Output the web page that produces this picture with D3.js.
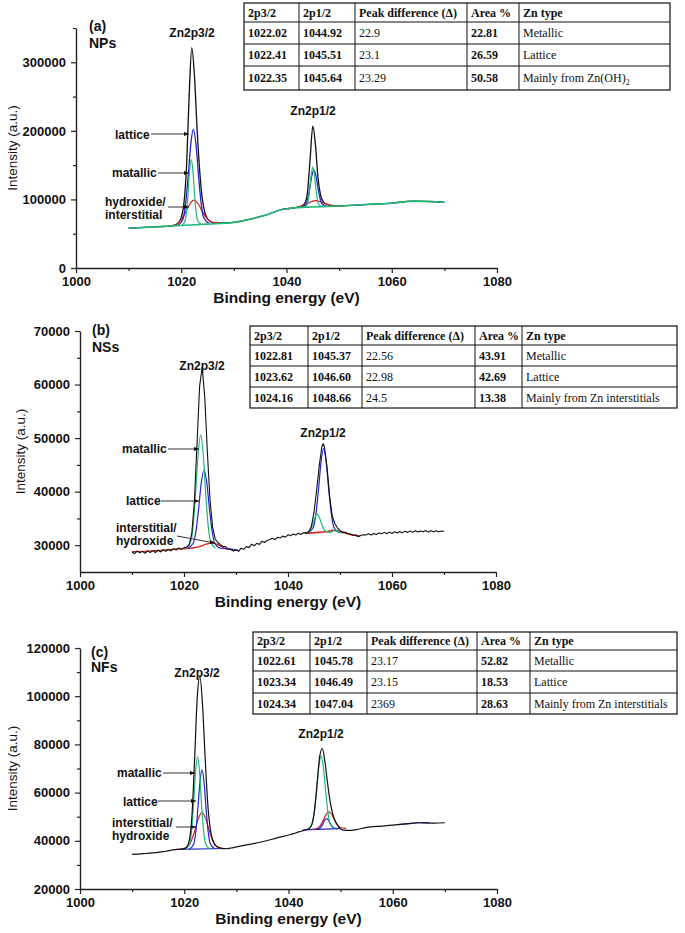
<!DOCTYPE html>
<html><head><meta charset="utf-8">
<script src="https://cdn.jsdelivr.net/npm/d3@7"></script>
<style>
body{margin:0;background:#fff}
svg{display:block}
.tick text{font-family:"Liberation Sans",Arial,sans-serif;font-weight:bold;font-size:13px;fill:#111}
.domain{stroke:#222;stroke-width:1.4}
.tick line{stroke:#222;stroke-width:1.2}
</style>
</head><body>
<svg id="chart" width="685" height="933"></svg>
<script>
// ---------------- DATA ----------------
const energyTicks = [1000, 1020, 1040, 1060, 1080];
const energyMinor = [1010, 1030, 1050, 1070];
const aYTicks = [0, 100000, 200000, 300000];
const aYMinor = [50000, 150000, 250000, 350000];
const bYTicks = [30000, 40000, 50000, 60000, 70000];
const bYMinor = [35000, 45000, 55000, 65000];
const cYTicks = [20000, 40000, 60000, 80000, 100000, 120000];
const cYMinor = [30000, 50000, 70000, 90000, 110000];

const tableHeader = ["2p3/2", "2p1/2", "Peak difference (\u0394)", "Area %", "Zn type"];
const aTable = [
  ["1022.02", "1044.92", "22.9", "22.81", "Metallic"],
  ["1022.41", "1045.51", "23.1", "26.59", "Lattice"],
  ["1022.35", "1045.64", "23.29", "50.58", "Mainly from Zn(OH)2"]
];
const bTable = [
  ["1022.81", "1045.37", "22.56", "43.91", "Metallic"],
  ["1023.62", "1046.60", "22.98", "42.69", "Lattice"],
  ["1024.16", "1048.66", "24.5", "13.38", "Mainly from Zn interstitials"]
];
const cTable = [
  ["1022.61", "1045.78", "23.17", "52.82", "Metallic"],
  ["1023.34", "1046.49", "23.15", "18.53", "Lattice"],
  ["1024.34", "1047.04", "2369", "28.63", "Mainly from Zn interstitials"]
];

// Panel (a) NPs  [binding energy eV, intensity a.u.]
const aSpectrum = [[1010,58000],[1013,59200],[1016,60400],[1017,60720],[1018,61260],[1019,63460],[1019.5,66570],[1020,73900],[1020.5,93450],[1021,147300],[1021.5,251000],[1022,321200],[1022.5,281700],[1023,204400],[1023.5,142000],[1024,101400],[1024.5,80760],[1025,71790],[1026,66320],[1027,65660],[1028,65800],[1030,66500],[1033,71000],[1036,77000],[1039,85000],[1042,88560],[1043,90810],[1043.5,94820],[1044,111190],[1044.5,160240],[1045,206840],[1045.5,179480],[1046,130470],[1046.5,105540],[1047,96620],[1047.5,93570],[1048,92090],[1049,90760],[1050,90590],[1055,92500],[1060,94500],[1064,97500],[1067,97000],[1070,96000]];
const aBackground = [[1010,58000],[1015,60000],[1020,62000],[1025,64000],[1030,66500],[1033,71000],[1036,77000],[1039,85000],[1042,88000],[1045,89000],[1050,90500],[1055,92500],[1060,94500],[1064,97500],[1067,97000],[1070,96000]];
const aMetallic32 = [[1020.1,62200],[1020.7,68300],[1021.0,82500],[1021.3,110000],[1021.6,142700],[1021.9,158000],[1022.2,143000],[1022.5,110800],[1022.8,83400],[1023.1,69500],[1023.7,64000]];
const aMetallic12 = [[1043.35,88570],[1043.9,92260],[1044.18,100900],[1044.45,117800],[1044.73,137700],[1045.0,147000],[1045.28,137900],[1045.55,118200],[1045.83,101500],[1046.1,93000],[1046.65,89670]];
const aLattice32 = [[1019.3,61930],[1020.3,70840],[1020.8,91590],[1021.3,132150],[1021.8,179800],[1022.3,202150],[1022.8,180300],[1023.3,133150],[1023.8,93090],[1024.3,72840],[1025.3,64930]];
const aLattice12 = [[1042.8,88370],[1043.6,91880],[1044.0,99920],[1044.4,115600],[1044.8,134010],[1045.2,142670],[1045.6,134280],[1046.0,116130],[1046.4,100720],[1046.8,92950],[1047.6,89970]];
const aHydroxide32 = [[1017.5,60820],[1019.1,63790],[1019.9,69470],[1020.75,80280],[1021.6,92900],[1022.4,99000],[1023.2,93700],[1024.05,81930],[1024.9,71970],[1025.7,67090],[1027.35,65750]];
const aHydroxide12 = [[1040.25,86270],[1042.0,88560],[1042.88,90180],[1043.75,93080],[1044.63,96450],[1045.5,98170],[1046.38,96980],[1047.25,94180],[1048.13,91830],[1049.0,90760],[1050.75,90740]];

// Panel (b) NSs (raw data, read with its noise)
const bSpectrum = [[1010,28700],[1010.5,28450],[1011,28950],[1011.5,28600],[1012,28850],[1012.5,28500],[1013,28900],[1013.5,28650],[1014,29000],[1014.5,28650],[1015,29050],[1015.5,28750],[1016,29150],[1016.5,28850],[1017,29200],[1017.5,28950],[1018,29350],[1018.5,29100],[1019,29500],[1019.5,29250],[1020,29550],[1020.5,29650],[1021,30040],[1021.5,32240],[1022,38270],[1022.5,48850],[1023,59630],[1023.5,63270],[1024,57520],[1024.5,47290],[1025,38490],[1025.5,33390],[1026,31170],[1026.5,30500],[1027,30100],[1027.5,29750],[1028,29750],[1028.5,29300],[1029,29250],[1029.5,28900],[1030,29150],[1030.5,28850],[1031,29450],[1031.5,29250],[1032,29750],[1032.5,29550],[1033,30200],[1033.5,29900],[1034,30350],[1034.5,30150],[1035,30750],[1035.5,30500],[1036,30900],[1036.5,31050],[1037,31300],[1037.5,31050],[1038,31500],[1038.5,31350],[1039,31700],[1039.5,31500],[1040,31950],[1040.5,31750],[1041,32100],[1041.5,31900],[1042,32250],[1042.5,32000],[1043,32350],[1043.5,32300],[1044,32570],[1044.5,33560],[1045,36120],[1045.5,40200],[1046,44780],[1046.5,48340],[1046.75,48940],[1047,48450],[1047.5,44540],[1048,39170],[1048.5,35500],[1049,34050],[1049.5,33250],[1050,32750],[1050.5,32400],[1051,32420],[1051.5,32200],[1052,32100],[1052.5,31850],[1053,31900],[1053.5,31600],[1054,31800],[1054.5,31950],[1055,31900],[1055.5,32150],[1056,31900],[1056.5,32200],[1057,32000],[1057.5,32300],[1058,32150],[1058.5,32400],[1059,32150],[1059.5,32450],[1060,32200],[1060.5,32500],[1061,32300],[1061.5,32550],[1062,32300],[1062.5,32600],[1063,32400],[1063.5,32650],[1064,32400],[1064.5,32700],[1065,32450],[1065.5,32650],[1066,32500],[1066.5,32750],[1067,32450],[1067.5,32700],[1068,32500],[1068.5,32700],[1069,32500],[1069.5,32650],[1070,32550]];
const bMetallic32 = [[1020.35,29440],[1021.3,30730],[1021.78,33850],[1022.25,40000],[1022.73,47230],[1023.2,50600],[1023.68,47230],[1024.15,40000],[1024.63,33850],[1025.1,30730],[1026.05,29440]];
const bMetallic12 = [[1043.2,32260],[1044.0,32510],[1044.4,33010],[1044.8,34040],[1045.2,35240],[1045.6,35800],[1046.0,35260],[1046.4,34150],[1046.8,33160],[1047.2,32660],[1048.0,32410],[1048.3,32450],[1048.7,32650],[1049.1,32900],[1049.5,32650],[1049.9,32400],[1050.5,32300]];
const bLattice32 = [[1020.7,29430],[1021.75,30310],[1022.28,32470],[1022.8,36700],[1023.33,41680],[1023.85,44000],[1024.38,41680],[1024.9,36700],[1025.43,32470],[1025.95,30310],[1027.0,29430],[1028.5,29300],[1030.5,29050]];
const bLattice12 = [[1043.85,32330],[1044.85,33320],[1045.35,35680],[1045.85,40230],[1046.35,45570],[1046.85,48050],[1047.35,45570],[1047.85,40240],[1048.35,35700],[1048.85,33320],[1049.85,32330]];
const bInterstitial32 = [[1010,28800],[1013,28900],[1016,29100],[1019,29300],[1021,29400],[1022.3,29600],[1023.3,29850],[1024.3,30200],[1025.3,30400],[1026.3,30200],[1027.3,29700],[1028.3,29300],[1029.3,29150]];
const bInterstitial12 = [[1043.3,32200],[1044.5,32300],[1046,32400],[1047.2,32500],[1048,32650],[1048.7,32800],[1049.4,32700],[1050.5,32400],[1052,32000],[1053.8,31700]];

// Panel (c) NFs
const cSpectrum = [[1010,34400],[1011,34500],[1012,34650],[1013,34800],[1014,34950],[1015,35200],[1016,35500],[1017,35900],[1018,36300],[1019,36460],[1019.5,36530],[1020,36750],[1020.5,37490],[1021,40530],[1021.5,51230],[1022,74400],[1022.5,99710],[1023,108260],[1023.5,96670],[1024,74960],[1024.5,55690],[1025,44840],[1025.5,40140],[1026,38120],[1027,36910],[1028,36700],[1029,37000],[1030,37500],[1032,38300],[1035,39600],[1038,41300],[1040,42400],[1041,43000],[1042,43700],[1043,44300],[1044,45070],[1044.5,46940],[1045,52830],[1045.5,64000],[1046,75250],[1046.5,78300],[1047,72580],[1047.5,63800],[1048,56140],[1048.5,51070],[1049,48030],[1049.5,46280],[1050,44900],[1051,44300],[1052,44350],[1053,44600],[1055,45600],[1058,46100],[1060,46500],[1062,46900],[1065,47500],[1068,47300],[1070,47500]];
const cMetallic32 = [[1020.3,36570],[1021.05,38920],[1021.43,44580],[1021.8,55700],[1022.18,68780],[1022.55,74880],[1022.93,68810],[1023.3,55760],[1023.68,44670],[1024.05,39040],[1024.8,36750]];
const cMetallic12 = [[1043.55,44700],[1044.45,46600],[1044.9,51120],[1045.35,59970],[1045.8,70370],[1046.25,75230],[1046.7,70430],[1047.15,60090],[1047.6,51310],[1048.05,46850],[1048.95,45080]];
const cLattice32 = [[1021.0,36590],[1021.8,38600],[1022.2,43460],[1022.6,52980],[1023.0,64190],[1023.4,69420],[1023.8,64220],[1024.2,53050],[1024.6,43550],[1025.0,38730],[1025.8,36780]];
const cLattice12 = [[1045.2,44760],[1045.9,45070],[1046.25,45730],[1046.6,47000],[1046.95,48490],[1047.3,49200],[1047.65,48540],[1048.0,47100],[1048.35,45880],[1048.7,45270],[1049.4,45060]];
const cInterstitial32 = [[1019.2,36480],[1020.6,37450],[1021.3,39700],[1022.0,44090],[1022.7,49250],[1023.4,51680],[1024.1,49310],[1024.8,44200],[1025.5,39860],[1026.2,37670],[1027.6,36810]];
const cInterstitial12 = [[1044.45,44720],[1045.55,45220],[1046.1,46300],[1046.65,48390],[1047.2,50840],[1047.75,52000],[1048.3,50920],[1048.85,48550],[1049.4,46530],[1049.95,45530],[1051.05,45180]];
const cBackground32 = [[1018.5,36420],[1028,36800]];
const cBackground12 = [[1042.8,44550],[1049.8,45060]];
const cBackgroundTail = [[1061,46700],[1063,47100],[1065,47500],[1067,47400]];

const aLabels = ["(a)", "NPs", "Zn2p3/2", "Zn2p1/2", "lattice", "matallic", "hydroxide/", "interstitial"];
const bLabels = ["(b)", "NSs", "Zn2p3/2", "Zn2p1/2", "matallic", "lattice", "interstitial/", "hydroxide"];
const cLabels = ["(c)", "NFs", "Zn2p3/2", "Zn2p1/2", "matallic", "lattice", "interstitial/", "hydroxide"];

// ---------------- DRAWING ----------------
const COL = {black:"#111", green:"#1fb97a", blue:"#2424c8", red:"#d42020"};
const SANS = "'Liberation Sans', Arial, sans-serif";
const SERIF = "'Liberation Serif', 'Times New Roman', serif";
const svg = d3.select("#chart");

const defs = svg.append("defs");
defs.append("marker").attr("id","arr").attr("viewBox","0 0 6 6").attr("refX",6).attr("refY",3)
  .attr("markerWidth",5).attr("markerHeight",5).attr("orient","auto")
  .append("path").attr("d","M0,0.5 L6,3 L0,5.5 z").attr("fill","#111");

function panel(p) {
  const x = d3.scaleLinear().domain([1000, 1080]).range([p.left, p.right]);
  const y = d3.scaleLinear().domain(p.yDomain).range([p.bottom, p.top]);
  const g = svg.append("g");

  g.append("g").attr("transform", `translate(0,${p.bottom})`)
    .call(d3.axisBottom(x).tickValues(energyTicks).tickSize(5).tickSizeOuter(0).tickPadding(4).tickFormat(d3.format("d")));
  g.append("g").attr("transform", `translate(0,${p.bottom})`)
    .call(d3.axisBottom(x).tickValues(energyMinor).tickSize(3).tickSizeOuter(0).tickFormat(""))
    .select(".domain").remove();
  g.append("g").attr("transform", `translate(${p.left},0)`)
    .call(d3.axisLeft(y).tickValues(p.yTicks).tickSize(5).tickSizeOuter(0).tickPadding(5).tickFormat(d3.format("d")));
  g.append("g").attr("transform", `translate(${p.left},0)`)
    .call(d3.axisLeft(y).tickValues(p.yMinor).tickSize(3).tickSizeOuter(0).tickFormat(""))
    .select(".domain").remove();

  g.append("text").attr("x", (p.left + p.right) / 2).attr("y", p.bottom + 35)
    .attr("text-anchor","middle").attr("font-family",SANS).attr("font-weight","bold")
    .attr("font-size","15.5px").attr("fill","#111").text("Binding energy (eV)");
  g.append("text").attr("transform", `translate(${p.ytitleX},${(p.top + p.bottom) / 2}) rotate(-90)`)
    .attr("text-anchor","middle").attr("dominant-baseline","middle").attr("font-family",SANS)
    .attr("font-size","13.5px").attr("fill","#111").text("Intensity (a.u.)");

  const smooth = d3.line().x(d => x(d[0])).y(d => y(d[1])).curve(d3.curveMonotoneX);
  const straight = d3.line().x(d => x(d[0])).y(d => y(d[1]));
  p.series.forEach(s => g.append("path").datum(s[0]).attr("d", s[3] ? straight : smooth)
    .attr("fill","none").attr("stroke", s[1]).attr("stroke-width", s[2]).attr("stroke-linejoin","round"));

  const L = p.labels, P = p.labelPos;
  const txt = (t, pos, anchor, size) => g.append("text").attr("x", pos[0]).attr("y", pos[1])
    .attr("text-anchor", anchor).attr("font-family", SANS).attr("font-weight","bold")
    .attr("font-size", size).attr("fill","#111").text(t);
  txt(L[0], P[0], "start", "14px");
  txt(L[1], P[1], "start", "14px");
  txt(L[2], P[2], "middle", "12px");
  txt(L[3], P[3], "middle", "12px");
  for (let i = 4; i < 8; i++) txt(L[i], P[i], "start", "12px");
  p.arrows.forEach(a => g.append("line").attr("x1", a[0]).attr("y1", a[1]).attr("x2", a[2]).attr("y2", a[3])
    .attr("stroke","#333").attr("stroke-width",1).attr("marker-end","url(#arr)"));

  const t = p.table;
  const tg = svg.append("g");
  tg.append("rect").attr("x", t.cols[0]).attr("y", t.rows[0])
    .attr("width", t.cols[t.cols.length-1] - t.cols[0]).attr("height", t.rows[t.rows.length-1] - t.rows[0])
    .attr("fill","#fff").attr("stroke","#111").attr("stroke-width",1.2);
  t.cols.slice(1, -1).forEach(c => tg.append("line").attr("x1", c).attr("x2", c)
    .attr("y1", t.rows[0]).attr("y2", t.rows[t.rows.length-1]).attr("stroke","#111").attr("stroke-width",1));
  t.rows.slice(1, -1).forEach(r => tg.append("line").attr("y1", r).attr("y2", r)
    .attr("x1", t.cols[0]).attr("x2", t.cols[t.cols.length-1]).attr("stroke","#111").attr("stroke-width",1));
  const allRows = [tableHeader].concat(t.data);
  allRows.forEach((row, ri) => {
    const yc = (t.rows[ri] + t.rows[ri+1]) / 2 + 4;
    row.forEach((cell, ci) => {
      const bold = ri === 0 || ci === 0 || ci === 1 || ci === 3;
      const te = tg.append("text").attr("x", t.cols[ci] + 4).attr("y", yc)
        .attr("font-family", SERIF).attr("font-size","12px").attr("fill","#111")
        .attr("font-weight", bold ? "bold" : "normal");
      const m = cell.match(/^(.*\(OH\))2$/);
      if (m) {
        te.append("tspan").text(m[1]);
        te.append("tspan").attr("dy", 3).attr("font-size","8px").text("2");
      } else te.text(cell);
    });
  });
}

panel({
  left:76, right:497, top:28, bottom:268, yDomain:[0,350000], yTicks:aYTicks, yMinor:aYMinor, ytitleX:13,
  series:[
    [aSpectrum, COL.black, 1.3],
    [aHydroxide32, COL.red, 1.2], [aHydroxide12, COL.red, 1.2],
    [aLattice32, COL.blue, 1.3], [aLattice12, COL.blue, 1.3],
    [aMetallic32, COL.green, 1.2], [aMetallic12, COL.green, 1.2],
    [aBackground, COL.green, 1.6]
  ],
  labels:aLabels,
  labelPos:[[89,31],[89,48],[192,37],[313,115],[115,139],[112,177],[105,206],[105,219]],
  arrows:[[151,134,189,134],[158,173,189,173],[168,207,189,207]],
  table:{cols:[244,299,355,467,519,670], rows:[3,22,44,66,90], data:aTable}
});

panel({
  left:80, right:496, top:331, bottom:572, yDomain:[25000,70000], yTicks:bYTicks, yMinor:bYMinor, ytitleX:21,
  series:[
    [bInterstitial32, COL.red, 1.3], [bInterstitial12, COL.red, 1.6],
    [bLattice32, COL.blue, 1.2], [bLattice12, COL.blue, 1.2],
    [bMetallic32, COL.green, 1.2], [bMetallic12, COL.green, 1.2],
    [bSpectrum, COL.black, 1.1, true]
  ],
  labels:bLabels,
  labelPos:[[92,335],[92,352],[202,370],[323,437],[122,453],[126,505],[116,532],[116,545]],
  arrows:[[168,449,199,449],[161,501,199,501],[177,536,215,543]],
  table:{cols:[250,308,362,475,522,677], rows:[326,345,366,387,408], data:bTable}
});

panel({
  left:80, right:497, top:648, bottom:889, yDomain:[20000,120000], yTicks:cYTicks, yMinor:cYMinor, ytitleX:13,
  series:[
    [cBackground32, COL.blue, 1.2], [cBackground12, COL.blue, 1.2], [cBackgroundTail, COL.blue, 1.2],
    [cInterstitial32, COL.red, 1.2], [cInterstitial12, COL.red, 1.2],
    [cLattice32, COL.blue, 1.2], [cLattice12, COL.blue, 1.2],
    [cMetallic32, COL.green, 1.2], [cMetallic12, COL.green, 1.2],
    [cSpectrum, COL.black, 1.2]
  ],
  labels:cLabels,
  labelPos:[[91,657],[91,672],[197,677],[321,738],[117,777],[123,806],[112,827],[112,840]],
  arrows:[[163,773,195,773],[158,801,196,801],[176,827,196,827]],
  table:{cols:[253,310,367,477,530,677], rows:[632,650,671,693,714], data:cTable}
});
</script>
</body></html>
